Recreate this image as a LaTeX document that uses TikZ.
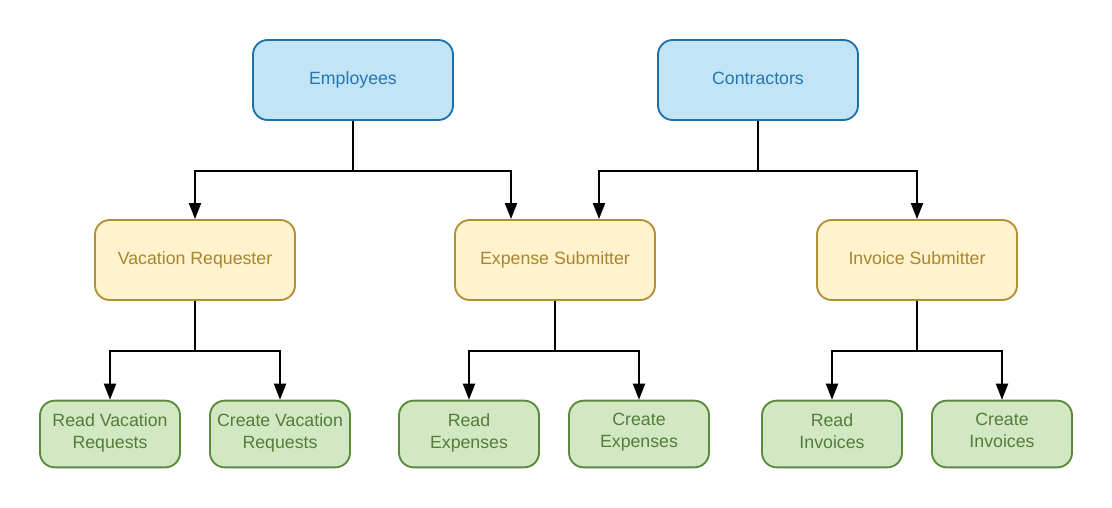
\documentclass[tikz,border=0pt]{standalone}
\usepackage{fontspec}
\setmainfont{Liberation Sans}
\usetikzlibrary{arrows.meta,calc}

\definecolor{roleFill}{HTML}{C2E4F7}
\definecolor{roleLine}{HTML}{1E72AC}
\definecolor{roleText}{HTML}{2677B0}
\definecolor{permFill}{HTML}{FFF2CC}
\definecolor{permLine}{HTML}{B38F38}
\definecolor{permText}{HTML}{A8862E}
\definecolor{actFill}{HTML}{D1E8C2}
\definecolor{actLine}{HTML}{5C8A3D}
\definecolor{actText}{HTML}{557C3B}

\begin{document}
\begin{tikzpicture}[x=0.75pt,y=0.75pt,yscale=-1,xscale=1,
  font=\fontsize{13.3}{16.5}\selectfont,
  box/.style={draw,rounded corners=11pt,line width=1.4pt,align=center,inner sep=0pt,
    execute at begin node=\strut,execute at end node=\strut},
  role/.style={box,fill=roleFill,draw=roleLine,text=roleText,minimum width=150pt,minimum height=60pt},
  perm/.style={box,fill=permFill,draw=permLine,text=permText,minimum width=150pt,minimum height=60pt},
  act/.style={box,fill=actFill,draw=actLine,text=actText,minimum width=105pt,minimum height=50pt},
  conn/.style={line width=1.5pt,-{Triangle[length=12pt,width=9pt]}}]
\useasboundingbox (0,0) rectangle (1112,507);

%top level
\node [role] (emp) at (353,80) {Employees};
\node [role] (con) at (758,80) {Contractors};

%second level
\node [perm] (vac) at (195,260) {Vacation Requester};
\node [perm] (exp) at (555,260) {Expense Submitter};
\node [perm] (inv) at (917,260) {Invoice Submitter};

%third level
\node [act] (rvac) at (110,434) {Read Vacation\\Requests};
\node [act] (cvac) at (280,434) {Create Vacation\\Requests};
\node [act] (rexp) at (469,434) {Read\\Expenses};
\node [act] (cexp) at (639,434) {Create\\Expenses};
\node [act] (rinv) at (832,434) {Read\\Invoices};
\node [act] (cinv) at (1002,434) {Create\\Invoices};

%connectors
\draw [conn] (emp.south) -- ++(0,50) -| (vac.north);
\draw [conn] (emp.south) -- ++(0,50) -| ($(exp.north)+(-44,0)$);
\draw [conn] (con.south) -- ++(0,50) -| ($(exp.north)+(44,0)$);
\draw [conn] (con.south) -- ++(0,50) -| (inv.north);
\draw [conn] (vac.south) -- ++(0,50) -| (rvac.north);
\draw [conn] (vac.south) -- ++(0,50) -| (cvac.north);
\draw [conn] (exp.south) -- ++(0,50) -| (rexp.north);
\draw [conn] (exp.south) -- ++(0,50) -| (cexp.north);
\draw [conn] (inv.south) -- ++(0,50) -| (rinv.north);
\draw [conn] (inv.south) -- ++(0,50) -| (cinv.north);
\end{tikzpicture}
\end{document}
